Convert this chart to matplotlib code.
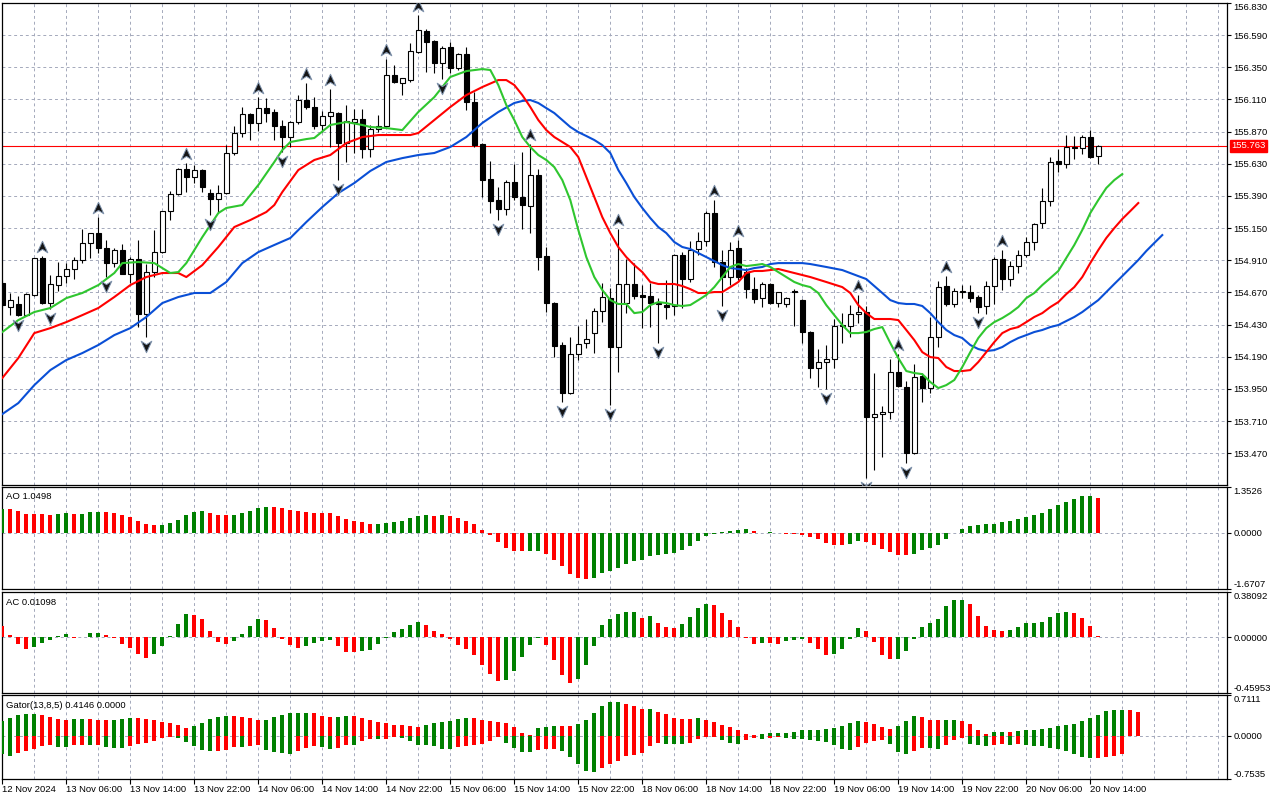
import matplotlib.pyplot as plt
import numpy as np
from matplotlib.path import Path
from matplotlib.transforms import blended_transform_factory

plt.rcParams["font.family"] = ["Liberation Sans", "DejaVu Sans"]

# ---- hourly candles (bar 0 = 12 Nov 2024 22:00) ----
opens = [154.740, 154.561, 154.584, 154.501, 154.651, 154.927, 154.591, 154.725, 154.792, 154.845,
         154.912, 155.038, 155.113, 155.001, 154.889, 154.986, 154.807, 154.919, 154.509, 154.822,
         154.971, 155.277, 155.404, 155.591, 155.531, 155.583, 155.411, 155.367, 155.411, 155.710,
         155.859, 156.001, 155.934, 156.045, 156.016, 155.911, 155.829, 155.941, 156.105, 156.053,
         155.919, 155.986, 156.008, 155.784, 155.941, 155.963, 155.740, 155.889, 155.911, 156.292,
         156.232, 156.254, 156.463, 156.620, 156.545, 156.381, 156.500, 156.344, 156.448, 156.090,
         155.777, 155.516, 155.359, 155.292, 155.493, 155.382, 155.314, 155.546, 154.942, 154.591,
         154.278, 153.920, 154.211, 154.293, 154.367, 154.531, 154.628, 154.263, 154.591, 154.733,
         154.651, 154.643, 154.591, 154.576, 154.569, 154.949, 154.770, 154.994, 155.053, 155.262,
         154.897, 154.785, 155.001, 154.822, 154.695, 154.628, 154.733, 154.591, 154.584, 154.681,
         154.613, 154.375, 154.106, 154.151, 154.173, 154.419, 154.419, 154.509, 154.524, 153.741,
         153.763, 153.778, 154.076, 153.964, 153.472, 154.046, 153.957, 154.337, 154.718, 154.584,
         154.673, 154.673, 154.636, 154.569, 154.718, 154.919, 154.770, 154.867, 154.949, 155.046,
         155.188, 155.352, 155.650, 155.628, 155.755, 155.747, 155.829, 155.687]
highs = [154.763, 154.666, 154.643, 154.666, 154.930, 154.941, 154.800, 154.897, 154.889, 154.934,
         155.143, 155.113, 155.232, 155.061, 155.001, 155.031, 154.934, 155.061, 154.882, 155.136,
         155.277, 155.426, 155.598, 155.635, 155.620, 155.591, 155.441, 155.471, 155.769, 155.911,
         156.053, 156.008, 156.127, 156.120, 156.038, 155.956, 155.948, 156.142, 156.232, 156.127,
         156.023, 156.187, 156.016, 156.068, 156.038, 156.038, 155.919, 155.993, 156.411, 156.366,
         156.269, 156.530, 156.739, 156.635, 156.553, 156.508, 156.538, 156.456, 156.500, 156.165,
         155.784, 155.650, 155.456, 155.508, 155.628, 155.717, 155.777, 155.591, 155.009, 154.598,
         154.300, 154.337, 154.419, 154.472, 154.554, 154.740, 154.703, 155.143, 154.919, 154.889,
         154.725, 154.740, 154.628, 154.763, 154.956, 154.971, 155.053, 155.121, 155.277, 155.359,
         154.986, 155.046, 155.061, 154.852, 154.785, 154.748, 154.740, 154.673, 154.636, 154.695,
         154.621, 154.382, 154.248, 154.278, 154.472, 154.516, 154.576, 154.651, 154.569, 154.069,
         153.823, 154.173, 154.210, 154.009, 154.136, 154.069, 154.487, 154.755, 154.792, 154.703,
         154.725, 154.725, 154.651, 154.755, 154.934, 154.986, 154.904, 154.986, 155.083, 155.188,
         155.449, 155.680, 155.740, 155.844, 155.837, 155.844, 155.881, 155.769]
lows = [154.554, 154.501, 154.494, 154.494, 154.643, 154.584, 154.546, 154.681, 154.740, 154.770,
        154.889, 154.927, 154.964, 154.785, 154.860, 154.807, 154.740, 154.412, 154.337, 154.785,
        154.964, 155.210, 155.397, 155.419, 155.486, 155.419, 155.247, 155.262, 155.404, 155.695,
        155.829, 155.807, 155.874, 155.941, 155.807, 155.717, 155.755, 155.926, 156.038, 155.889,
        155.866, 155.755, 155.508, 155.643, 155.710, 155.672, 155.680, 155.866, 155.904, 156.232,
        156.142, 156.239, 156.456, 156.314, 156.306, 156.262, 156.306, 156.329, 156.031, 155.755,
        155.382, 155.262, 155.210, 155.247, 155.359, 155.143, 155.113, 154.837, 154.524, 154.188,
        153.853, 153.912, 154.166, 154.255, 154.218, 154.449, 153.830, 154.076, 154.516, 154.621,
        154.404, 154.412, 154.293, 154.472, 154.501, 154.554, 154.748, 154.949, 155.016, 154.860,
        154.569, 154.725, 154.763, 154.628, 154.591, 154.561, 154.584, 154.561, 154.561, 154.419,
        154.293, 154.032, 153.964, 153.950, 154.106, 154.293, 154.337, 154.442, 153.286, 153.345,
        153.442, 153.726, 153.964, 153.397, 153.465, 153.853, 153.920, 154.263, 154.569, 154.561,
        154.628, 154.598, 154.516, 154.509, 154.584, 154.688, 154.718, 154.815, 154.934, 154.986,
        155.150, 155.314, 155.568, 155.598, 155.665, 155.702, 155.673, 155.628]
closes = [154.576, 154.613, 154.501, 154.658, 154.927, 154.591, 154.733, 154.792, 154.845, 154.912,
          155.038, 155.113, 155.001, 154.889, 154.986, 154.807, 154.919, 154.509, 154.822, 154.971,
          155.277, 155.404, 155.591, 155.531, 155.583, 155.456, 155.367, 155.411, 155.710, 155.859,
          156.001, 155.934, 156.045, 156.008, 155.911, 155.829, 155.941, 156.105, 156.053, 155.911,
          155.986, 156.016, 155.784, 155.948, 155.963, 155.740, 155.889, 155.911, 156.292, 156.239,
          156.269, 156.471, 156.627, 156.538, 156.381, 156.493, 156.344, 156.448, 156.090, 155.769,
          155.508, 155.352, 155.292, 155.493, 155.382, 155.322, 155.546, 154.934, 154.591, 154.270,
          153.920, 154.211, 154.285, 154.322, 154.531, 154.636, 154.263, 154.733, 154.733, 154.643,
          154.636, 154.591, 154.584, 154.561, 154.949, 154.770, 154.986, 155.053, 155.262, 154.897,
          154.785, 154.986, 154.785, 154.695, 154.621, 154.733, 154.591, 154.673, 154.628, 154.673,
          154.375, 154.106, 154.151, 154.173, 154.419, 154.427, 154.509, 154.524, 153.741, 153.763,
          153.778, 154.076, 153.972, 153.472, 154.039, 153.957, 154.337, 154.710, 154.584, 154.681,
          154.681, 154.628, 154.561, 154.718, 154.919, 154.770, 154.867, 154.949, 155.046, 155.180,
          155.352, 155.643, 155.628, 155.755, 155.747, 155.829, 155.680, 155.763]

fractal_up = [5, 12, 23, 32, 38, 41, 48, 52, 66, 77, 89, 92, 107, 112, 118, 125]
fractal_down = [2, 6, 13, 18, 26, 35, 42, 55, 62, 70, 76, 82, 90, 103, 108, 113, 122]

# ---- Alligator lines (bar index, price), already shifted forward ----
lips_bars = [0, 2, 4, 6, 8, 10, 12, 14, 15, 17, 19, 21, 22, 23, 25, 27, 28, 30, 32, 34, 35, 36, 38, 39,
             41, 43, 45, 46, 48, 50, 52, 54, 56, 58, 60, 61, 62, 63, 64, 65, 66, 67, 68, 69, 70, 71,
             72, 73, 74, 75, 76, 77, 78, 79, 80, 81, 82, 83, 84, 85, 86, 87, 88, 89, 90, 91, 92, 93,
             94, 95, 96, 97, 98, 99, 100, 101, 102, 103, 104, 105, 106, 107, 108, 109, 110, 111, 112,
             113, 114, 115, 116, 117, 118, 119, 120, 121, 122, 123, 124, 125, 126, 127, 128, 129, 130,
             131, 132, 133, 134, 135, 136, 137, 138, 139, 140]
lips = [154.375, 154.464, 154.524, 154.554, 154.628, 154.666, 154.725, 154.815, 154.889, 154.897,
        154.889, 154.815, 154.822, 154.889, 155.083, 155.262, 155.300, 155.322, 155.471, 155.643,
        155.732, 155.792, 155.814, 155.822, 155.919, 155.941, 155.919, 155.904, 155.896, 155.881,
        156.016, 156.127, 156.277, 156.321, 156.336, 156.329, 156.217, 156.068, 155.956, 155.829,
        155.755, 155.695, 155.658, 155.605, 155.508, 155.359, 155.136, 154.934, 154.785, 154.688,
        154.613, 154.584, 154.584, 154.516, 154.524, 154.576, 154.598, 154.591, 154.576, 154.569,
        154.576, 154.613, 154.651, 154.710, 154.785, 154.860, 154.882, 154.867, 154.874, 154.882,
        154.860, 154.822, 154.785, 154.748, 154.725, 154.710, 154.666, 154.576, 154.501, 154.427,
        154.367, 154.367, 154.375, 154.397, 154.412, 154.293, 154.181, 154.084, 154.069, 154.061,
        154.002, 153.957, 153.979, 154.017, 154.114, 154.225, 154.330, 154.404, 154.449, 154.479,
        154.516, 154.561, 154.628, 154.666, 154.725, 154.777, 154.830, 154.927, 155.024, 155.136,
        155.262, 155.359, 155.449, 155.508, 155.553]
teeth_bars = [0, 2, 4, 6, 8, 10, 12, 14, 16, 18, 20, 22, 23, 25, 27, 29, 31, 33, 34, 35, 37, 39, 41,
              43, 45, 47, 49, 51, 52, 54, 56, 58, 60, 62, 63, 64, 65, 66, 67, 68, 69, 71, 72, 73, 74,
              75, 76, 77, 78, 79, 80, 81, 82, 83, 84, 85, 86, 87, 88, 89, 90, 91, 92, 93, 94, 95, 96,
              97, 98, 99, 100, 101, 103, 105, 106, 107, 108, 109, 110, 111, 112, 113, 114, 115, 116,
              117, 118, 119, 120, 121, 122, 123, 124, 125, 126, 127, 128, 129, 130, 131, 132, 133,
              134, 135, 136, 137, 138, 139, 140, 141, 142]
teeth = [154.032, 154.181, 154.367, 154.404, 154.449, 154.501, 154.554, 154.636, 154.725, 154.785,
         154.815, 154.815, 154.785, 154.874, 155.009, 155.158, 155.210, 155.270, 155.322, 155.419,
         155.583, 155.658, 155.695, 155.784, 155.829, 155.844, 155.844, 155.844, 155.859, 155.956,
         156.053, 156.142, 156.202, 156.254, 156.254, 156.217, 156.142, 156.053, 155.956, 155.881,
         155.829, 155.755, 155.680, 155.531, 155.382, 155.232, 155.113, 155.009, 154.934, 154.874,
         154.822, 154.748, 154.733, 154.733, 154.733, 154.718, 154.695, 154.666, 154.666, 154.673,
         154.673, 154.710, 154.748, 154.815, 154.830, 154.830, 154.837, 154.845, 154.830, 154.815,
         154.800, 154.785, 154.748, 154.710, 154.666, 154.576, 154.516, 154.472, 154.472, 154.472,
         154.464, 154.390, 154.315, 154.225, 154.188, 154.181, 154.114, 154.084, 154.084, 154.091,
         154.151, 154.225, 154.300, 154.367, 154.397, 154.412, 154.449, 154.487, 154.516, 154.561,
         154.598, 154.658, 154.710, 154.785, 154.889, 154.986, 155.076, 155.150, 155.218, 155.277,
         155.337]
jaw_bars = [0, 2, 4, 6, 8, 10, 12, 14, 16, 18, 20, 22, 24, 26, 28, 30, 32, 34, 36, 38, 40, 42, 44,
            46, 48, 50, 52, 54, 56, 58, 60, 62, 64, 65, 66, 67, 68, 69, 70, 71, 72, 73, 74, 75, 76,
            77, 78, 79, 80, 81, 82, 83, 84, 85, 86, 87, 88, 89, 90, 91, 92, 93, 94, 95, 96, 97, 98,
            99, 100, 101, 103, 105, 107, 108, 109, 110, 111, 112, 113, 114, 115, 116, 117, 118, 119,
            120, 121, 122, 123, 124, 125, 126, 127, 128, 129, 130, 131, 132, 133, 134, 135, 136, 137,
            138, 139, 140, 141, 142, 143, 144, 145]
jaw = [153.763, 153.845, 153.979, 154.091, 154.166, 154.218, 154.278, 154.352, 154.404, 154.487,
       154.591, 154.636, 154.666, 154.666, 154.748, 154.889, 154.971, 155.024, 155.076, 155.195,
       155.307, 155.411, 155.486, 155.576, 155.643, 155.672, 155.695, 155.710, 155.755, 155.829,
       155.934, 156.016, 156.083, 156.098, 156.105, 156.083, 156.045, 156.008, 155.956, 155.904,
       155.866, 155.837, 155.807, 155.769, 155.710, 155.583, 155.486, 155.382, 155.300, 155.225,
       155.158, 155.113, 155.046, 155.009, 154.994, 154.964, 154.934, 154.904, 154.874, 154.852,
       154.845, 154.837, 154.852, 154.860, 154.882, 154.889, 154.889, 154.889, 154.889, 154.882,
       154.860, 154.837, 154.792, 154.770, 154.718, 154.666, 154.613, 154.591, 154.584, 154.584,
       154.569, 154.516, 154.449, 154.390, 154.352, 154.330, 154.278, 154.248, 154.233, 154.240,
       154.263, 154.300, 154.330, 154.352, 154.375, 154.390, 154.412, 154.427, 154.457, 154.487,
       154.524, 154.569, 154.613, 154.673, 154.733, 154.792, 154.852, 154.912, 154.979, 155.039,
       155.098]

# ---- Awesome / Accelerator oscillators ----
ao = [0.72, 0.70, 0.64, 0.56, 0.555, 0.55, 0.53, 0.56, 0.59, 0.56, 0.565, 0.62, 0.625, 0.615, 0.58,
      0.53, 0.47, 0.36, 0.27, 0.24, 0.245, 0.30, 0.39, 0.53, 0.61, 0.64, 0.59, 0.53, 0.525, 0.53,
      0.58, 0.64, 0.75, 0.78, 0.775, 0.73, 0.67, 0.64, 0.62, 0.59, 0.585, 0.58, 0.50, 0.41, 0.36,
      0.33, 0.27, 0.275, 0.30, 0.33, 0.36, 0.44, 0.50, 0.53, 0.50, 0.53, 0.50, 0.44, 0.36, 0.27,
      0.10, -0.07, -0.27, -0.45, -0.54, -0.545, -0.54, -0.535, -0.625, -0.80, -0.99, -1.22, -1.35,
      -1.375, -1.35, -1.20, -1.12, -1.03, -0.91, -0.83, -0.80, -0.68, -0.65, -0.625, -0.60, -0.51,
      -0.39, -0.25, -0.10, -0.02, 0.02, 0.07, 0.10, 0.13, 0.07, 0.01, 0.015, -0.01, -0.04, -0.045,
      -0.05, -0.12, -0.19, -0.31, -0.365, -0.37, -0.34, -0.25, -0.255, -0.37, -0.48, -0.57, -0.65,
      -0.655, -0.63, -0.51, -0.45, -0.37, -0.19, -0.01, 0.125, 0.21, 0.24, 0.27, 0.275, 0.33, 0.36,
      0.41, 0.47, 0.53, 0.59, 0.70, 0.82, 0.93, 1.02, 1.08, 1.085, 1.0498]
ac = [0.096, 0.02, -0.055, -0.096, -0.077, -0.044, -0.019, 0.011, 0.028, -0.006, 0.008, 0.036, 0.039,
      0.019, -0.003, -0.055, -0.088, -0.138, -0.171, -0.138, -0.072, 0.011, 0.11, 0.193, 0.19, 0.15,
      0.055, -0.036, -0.055, -0.03, 0.028, 0.096, 0.15, 0.143, 0.077, -0.014, -0.063, -0.088, -0.072,
      -0.047, -0.03, -0.019, -0.072, -0.121, -0.122, -0.113, -0.105, -0.055, -0.006, 0.044, 0.069,
      0.102, 0.127, 0.102, 0.052, 0.028, -0.014, -0.063, -0.096, -0.146, -0.229, -0.303, -0.36,
      -0.353, -0.278, -0.163, -0.063, -0.006, -0.063, -0.187, -0.311, -0.377, -0.344, -0.229, -0.072,
      0.102, 0.152, 0.193, 0.21, 0.211, 0.16, 0.176, 0.119, 0.085, 0.077, 0.11, 0.168, 0.243, 0.276,
      0.267, 0.201, 0.143, 0.085, -0.005, -0.055, -0.047, -0.05, -0.056, -0.028, -0.019, -0.014,
      -0.05, -0.10, -0.146, -0.138, -0.096, -0.011, 0.077, 0.052, -0.036, -0.146, -0.179, -0.178,
      -0.113, -0.011, 0.085, 0.118, 0.152, 0.259, 0.309, 0.31, 0.276, 0.176, 0.094, 0.061, 0.052,
      0.061, 0.085, 0.118, 0.119, 0.13, 0.174, 0.207, 0.215, 0.207, 0.165, 0.099, 0.01098]

# ---- Gator oscillator (upper runs to bar 142, lower to bar 140) ----
gator_up = [0.26, 0.32, 0.355, 0.38, 0.385, 0.355, 0.33, 0.30, 0.28, 0.295, 0.30, 0.295, 0.28, 0.278,
            0.282, 0.297, 0.314, 0.308, 0.296, 0.28, 0.244, 0.227, 0.19, 0.145, 0.174, 0.227, 0.296,
            0.33, 0.35, 0.348, 0.33, 0.314, 0.28, 0.282, 0.326, 0.366, 0.40, 0.402, 0.404, 0.40, 0.35,
            0.33, 0.333, 0.35, 0.348, 0.314, 0.28, 0.244, 0.227, 0.19, 0.189, 0.174, 0.157, 0.19,
            0.227, 0.244, 0.26, 0.296, 0.314, 0.312, 0.28, 0.26, 0.244, 0.227, 0.157, 0.052, 0.02,
            0.14, 0.157, 0.174, 0.172, 0.171, 0.21, 0.28, 0.40, 0.52, 0.593, 0.594, 0.558, 0.52, 0.47,
            0.475, 0.42, 0.38, 0.31, 0.30, 0.295, 0.31, 0.28, 0.244, 0.19, 0.157, 0.105, 0.035, 0.017,
            0.035, 0.052, 0.053, 0.054, 0.07, 0.105, 0.106, 0.107, 0.122, 0.14, 0.174, 0.227, 0.26,
            0.244, 0.21, 0.157, 0.122, 0.174, 0.26, 0.35, 0.33, 0.28, 0.278, 0.281, 0.283, 0.26, 0.21,
            0.105, 0.035, 0.07, 0.071, 0.07, 0.087, 0.105, 0.106, 0.125, 0.145, 0.165, 0.195, 0.215,
            0.265, 0.315, 0.37, 0.425, 0.448, 0.453, 0.452, 0.4146]
gator_down = [-0.32, -0.343, -0.30, -0.26, -0.227, -0.17, -0.157, -0.186, -0.188, -0.151, -0.150,
              -0.152, -0.150, -0.186, -0.203, -0.205, -0.169, -0.145, -0.122, -0.087, -0.041, -0.023,
              -0.029, -0.099, -0.169, -0.244, -0.262, -0.26, -0.244, -0.186, -0.188, -0.169, -0.157,
              -0.244, -0.285, -0.29, -0.31, -0.256, -0.203, -0.169, -0.186, -0.221, -0.203, -0.151,
              -0.153, -0.081, -0.047, -0.048, -0.046, -0.012, -0.029, -0.081, -0.151, -0.152, -0.169,
              -0.221, -0.222, -0.186, -0.169, -0.151, -0.134, -0.081, -0.012, -0.116, -0.203, -0.273,
              -0.275, -0.238, -0.227, -0.226, -0.26, -0.366, -0.488, -0.61, -0.628, -0.55, -0.48,
              -0.43, -0.345, -0.34, -0.29, -0.17, -0.116, -0.134, -0.135, -0.14, -0.116, -0.047,
              -0.012, -0.011, -0.064, -0.116, -0.134, -0.064, -0.03, -0.047, -0.03, -0.02, -0.04,
              -0.05, -0.06, -0.07, -0.087, -0.105, -0.157, -0.227, -0.244, -0.19, -0.122, -0.087,
              -0.07, -0.14, -0.28, -0.31, -0.26, -0.21, -0.215, -0.22, -0.16, -0.07, -0.03, -0.14,
              -0.157, -0.174, -0.157, -0.14, -0.157, -0.145, -0.16, -0.17, -0.18, -0.21, -0.233,
              -0.262, -0.314, -0.36, -0.384, -0.383, -0.36, -0.349, -0.32]

price_ticks = [153.470, 153.710, 153.950, 154.190, 154.430, 154.670, 154.910, 155.150, 155.390,
               155.630, 155.870, 156.110, 156.350, 156.590, 156.830]
price_range = (153.234, 156.831)
ao_range = (-1.6707, 1.3526)
ac_range = (-0.45953, 0.38092)
gator_range = (-0.7535, 0.7111)
time_bars = [0, 8, 16, 24, 32, 40, 48, 56, 64, 72, 80, 88, 96, 104, 112, 120, 128, 136]
time_labels = ["12 Nov 2024", "13 Nov 06:00", "13 Nov 14:00", "13 Nov 22:00", "14 Nov 06:00",
               "14 Nov 14:00", "14 Nov 22:00", "15 Nov 06:00", "15 Nov 14:00", "15 Nov 22:00",
               "18 Nov 06:00", "18 Nov 14:00", "18 Nov 22:00", "19 Nov 06:00", "19 Nov 14:00",
               "19 Nov 22:00", "20 Nov 06:00", "20 Nov 14:00"]

GREEN = "#008000"
RED = "#ff0000"
GRID = "#a4a9bb"
FS = 6.8
W, H = 1280, 800
LEFT, RIGHT = 2, 1227
XMIN, XMAX = -0.04, 153.09

fig = plt.figure(figsize=(W / 100, H / 100), dpi=100)


def panel(top, bottom):
    return fig.add_axes([LEFT / W, 1 - bottom / H, (RIGHT - LEFT) / W, (bottom - top) / H])


def style(ax, ylim, yticks, ylabels, edge_labels=True):
    ax.set_xlim(XMIN, XMAX)
    ax.set_ylim(*ylim)
    ax.yaxis.tick_right()
    ax.set_yticks(yticks, ylabels)
    ax.tick_params(axis="y", length=3, width=0.8, pad=1.5, labelsize=FS)
    if edge_labels:
        lbls = ax.get_yticklabels()
        lbls[0].set_verticalalignment("bottom")
        lbls[-1].set_verticalalignment("top")
    ax.set_xticks(np.arange(0, 153, 4))
    ax.tick_params(axis="x", length=0, labelbottom=False)
    ax.grid(True, color=GRID, linestyle=(0, (3, 3)), linewidth=0.7)
    for s in ax.spines.values():
        s.set_linewidth(0.9)


def updown_colors(values, magnitude=False, first_up=True):
    v = np.abs(values) if magnitude else np.asarray(values)
    up = np.r_[first_up, v[1:] >= v[:-1]]
    return np.where(up, GREEN, RED)


# ---------------- main price panel ----------------
ax = panel(2.7, 485)
style(ax, price_range, price_ticks, [f"{p:.3f}" for p in price_ticks], edge_labels=False)
ax.get_yticklabels()[-1].set_verticalalignment("top")

o, h, l, c = (np.asarray(a) for a in (opens, highs, lows, closes))
x = np.arange(len(o))
bull = c >= o
ax.vlines(x, l, h, color="black", linewidth=0.8, zorder=3)
ax.bar(x, np.maximum(np.abs(c - o), 0.003), bottom=np.minimum(o, c), width=0.56,
       color=np.where(bull, "white", "black"), edgecolor="black", linewidth=0.8, zorder=4)

ax.plot(jaw_bars, jaw, color="#0a4fd6", linewidth=1.5, zorder=5)
ax.plot(teeth_bars, teeth, color=RED, linewidth=1.5, zorder=5)
ax.plot(lips_bars, lips, color="#2fc62f", linewidth=1.5, zorder=5)

up_arrow = Path([(0, 1), (0.85, -0.85), (0, -0.3), (-0.85, -0.85), (0, 1)],
                [Path.MOVETO, Path.LINETO, Path.LINETO, Path.LINETO, Path.CLOSEPOLY])
down_arrow = Path([(0, -1), (0.85, 0.85), (0, 0.3), (-0.85, 0.85), (0, -1)],
                  [Path.MOVETO, Path.LINETO, Path.LINETO, Path.LINETO, Path.CLOSEPOLY])
gap = 0.068
ax.plot(fractal_up, h[fractal_up] + gap, linestyle="none", marker=up_arrow, markersize=9,
        color="#151515", markeredgecolor="#7f93ad", markeredgewidth=0.7, zorder=6)
ax.plot(fractal_down, l[fractal_down] - gap, linestyle="none", marker=down_arrow, markersize=9,
        color="#151515", markeredgecolor="#7f93ad", markeredgewidth=0.7, zorder=6)

last = closes[-1]
ax.axhline(last, color=RED, linewidth=0.8, zorder=2.5)
tr = blended_transform_factory(ax.transAxes, ax.transData)
ax.text(1.0035, last, f"{last:.3f}", transform=tr, ha="left", va="center", fontsize=FS,
        color="white", clip_on=False,
        bbox=dict(boxstyle="square,pad=0.18", facecolor=RED, edgecolor=RED))

# ---------------- AO ----------------
ax_ao = panel(487.3, 589.3)
style(ax_ao, ao_range, [ao_range[0], 0, ao_range[1]], ["-1.6707", "0.0000", "1.3526"])
ax_ao.bar(np.arange(len(ao)), ao, width=0.5, color=updown_colors(ao), linewidth=0, zorder=3)
ax_ao.text(4 / 1225, 0.905, f"AO {ao[-1]:.4f}", transform=ax_ao.transAxes, fontsize=FS,
           va="center", ha="left")

# ---------------- AC ----------------
ax_ac = panel(591.7, 692.7)
style(ax_ac, ac_range, [ac_range[0], 0, ac_range[1]], ["-0.45953", "0.00000", "0.38092"])
ax_ac.bar(np.arange(len(ac)), ac, width=0.5, color=updown_colors(ac, first_up=False),
          linewidth=0, zorder=3)
ax_ac.text(4 / 1225, 0.898, f"AC {ac[-1]:.5f}", transform=ax_ac.transAxes, fontsize=FS,
           va="center", ha="left")

# ---------------- Gator ----------------
ax_g = panel(695, 779.3)
style(ax_g, gator_range, [gator_range[0], 0, gator_range[1]], ["-0.7535", "0.0000", "0.7111"])
ax_g.bar(np.arange(len(gator_up)), gator_up, width=0.5,
         color=updown_colors(gator_up, magnitude=True), linewidth=0, zorder=3)
ax_g.bar(np.arange(len(gator_down)), gator_down, width=0.5,
         color=updown_colors(gator_down, magnitude=True), linewidth=0, zorder=3)
ax_g.text(4 / 1225, 0.88, f"Gator(13,8,5) {gator_up[-1]:.4f} 0.0000", transform=ax_g.transAxes,
          fontsize=FS, va="center", ha="left")

ax_g.set_xticks(time_bars, time_labels)
ax_g.set_xticks(np.arange(0, 153, 4), minor=True)
ax_g.grid(True, which="minor", axis="x", color=GRID, linestyle=(0, (3, 3)), linewidth=0.7)
ax_g.tick_params(axis="x", which="major", length=3.5, width=0.8, pad=0.5, labelsize=FS,
                 labelbottom=True)
ax_g.tick_params(axis="x", which="minor", length=0)
for lbl in ax_g.get_xticklabels():
    lbl.set_horizontalalignment("left")

fig.savefig("out.png", dpi=100)
